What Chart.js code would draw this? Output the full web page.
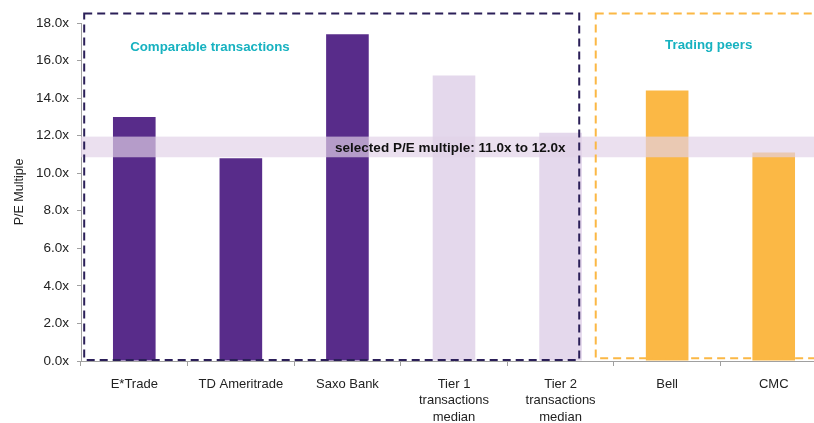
<!DOCTYPE html>
<html>
<head>
<meta charset="utf-8">
<script src="https://cdn.jsdelivr.net/npm/chart.js@4"></script>
<style>
  html, body { margin: 0; padding: 0; background: #fff; overflow: hidden; width: 814px; height: 423px; }
  canvas { display: block; }
</style>
</head>
<body>
<canvas id="peChart" width="828" height="423"></canvas>
<script>
// chart data
const categories = [
	'E*Trade',
	'TD Ameritrade',
	'Saxo Bank',
	['Tier 1', 'transactions', 'median'],
	['Tier 2', 'transactions', 'median'],
	'Bell',
	'CMC'
];
const peMultiples = [13.0, 10.8, 17.4, 15.2, 12.15, 14.4, 11.1];
const barColors = ['#582c8a', '#582c8a', '#582c8a', '#e4d8ec', '#e4d8ec', '#fbb845', '#fbb845'];
const yTicks = [0, 2, 4, 6, 8, 10, 12, 14, 16, 18];
const selectedRange = [10.85, 11.95];
const groupTitles = ['Comparable transactions', 'Trading peers'];
const bandLabel = 'selected P/E multiple: 11.0x to 12.0x';

const FONT = "'Liberation Sans', Arial, sans-serif";

// boxes + band + titles, drawn over the bars
const overlayPlugin = {
	id: 'overlay',
	afterDatasetsDraw(chart) {
		const ctx = chart.ctx;
		const x = chart.scales.x;
		const y = chart.scales.y;
		const area = chart.chartArea;
		const c0 = x.getPixelForValue(0);
		const step = x.getPixelForValue(1) - c0;
		const px = t => c0 + t * step;

		// selected range band
		const bTop = y.getPixelForValue(selectedRange[1]);
		const bBot = y.getPixelForValue(selectedRange[0]);
		ctx.save();
		ctx.fillStyle = 'rgba(225, 209, 231, 0.68)';
		ctx.fillRect(area.left, bTop, area.right - area.left, bBot - bTop);

		// dashed group boxes
		ctx.lineWidth = 2;
		ctx.setLineDash([8, 5]);
		ctx.strokeStyle = '#2b1f58';
		let l = px(-0.47), r = px(4.175), t = y.getPixelForValue(18.5), b = y.getPixelForValue(0.05);
		ctx.strokeRect(l, t, r - l, b - t);
		ctx.strokeStyle = '#fbb845';
		l = px(4.33); r = px(6.98); b = y.getPixelForValue(0.15);
		ctx.strokeRect(l, t, r - l, b - t);
		ctx.setLineDash([]);

		// texts
		ctx.fillStyle = '#111';
		ctx.font = 'bold 13.5px ' + FONT;
		ctx.textAlign = 'center';
		ctx.textBaseline = 'middle';
		ctx.fillText(bandLabel, px(2.965), (bTop + bBot) / 2 + 1);

		ctx.fillStyle = '#17b2c0';
		ctx.font = 'bold 13.3px ' + FONT;
		ctx.fillText(groupTitles[0], px(0.71), y.getPixelForValue(16.72));
		ctx.fillText(groupTitles[1], px(5.39), y.getPixelForValue(16.8));
		ctx.restore();
	}
};

new Chart(document.getElementById('peChart').getContext('2d'), {
	type: 'bar',
	data: {
		labels: categories,
		datasets: [{
			label: 'P/E Multiple',
			data: peMultiples,
			backgroundColor: barColors,
			borderWidth: 0,
			barPercentage: 0.4,
			categoryPercentage: 1.0
		}]
	},
	options: {
		responsive: false,
		animation: false,
		devicePixelRatio: 1,
		layout: { padding: { top: 23, right: 1, bottom: 0, left: 0 } },
		plugins: {
			legend: { display: false },
			tooltip: { enabled: false }
		},
		scales: {
			x: {
				grid: {
					display: true,
					drawOnChartArea: false,
					drawTicks: true,
					tickLength: 5,
					color: '#a0a0a0',
					offset: true
				},
				border: { display: true, color: '#a0a0a0', width: 1 },
				ticks: {
					color: '#222',
					font: { family: FONT, size: 13, lineHeight: 1.27 },
					padding: 10,
					maxRotation: 0,
					autoSkip: false
				},
				afterFit(scale) { scale.height = 62; }
			},
			y: {
				min: 0,
				max: 18,
				afterBuildTicks(scale) { scale.ticks = yTicks.map(v => ({ value: v })); },
				grid: {
					display: true,
					drawOnChartArea: false,
					drawTicks: true,
					tickLength: 4,
					color: '#a0a0a0'
				},
				border: { display: true, color: '#a0a0a0', width: 1 },
				ticks: {
					color: '#222',
					font: { family: FONT, size: 13.5 },
					padding: 8,
					callback: v => v.toFixed(1) + 'x'
				},
				title: {
					display: true,
					text: 'P/E Multiple',
					color: '#222',
					font: { family: FONT, size: 12.5 },
					padding: { top: 12, bottom: 6 }
				},
				afterFit(scale) { scale.width = 81; }
			}
		}
	},
	plugins: [overlayPlugin]
});
</script>
</body>
</html>
